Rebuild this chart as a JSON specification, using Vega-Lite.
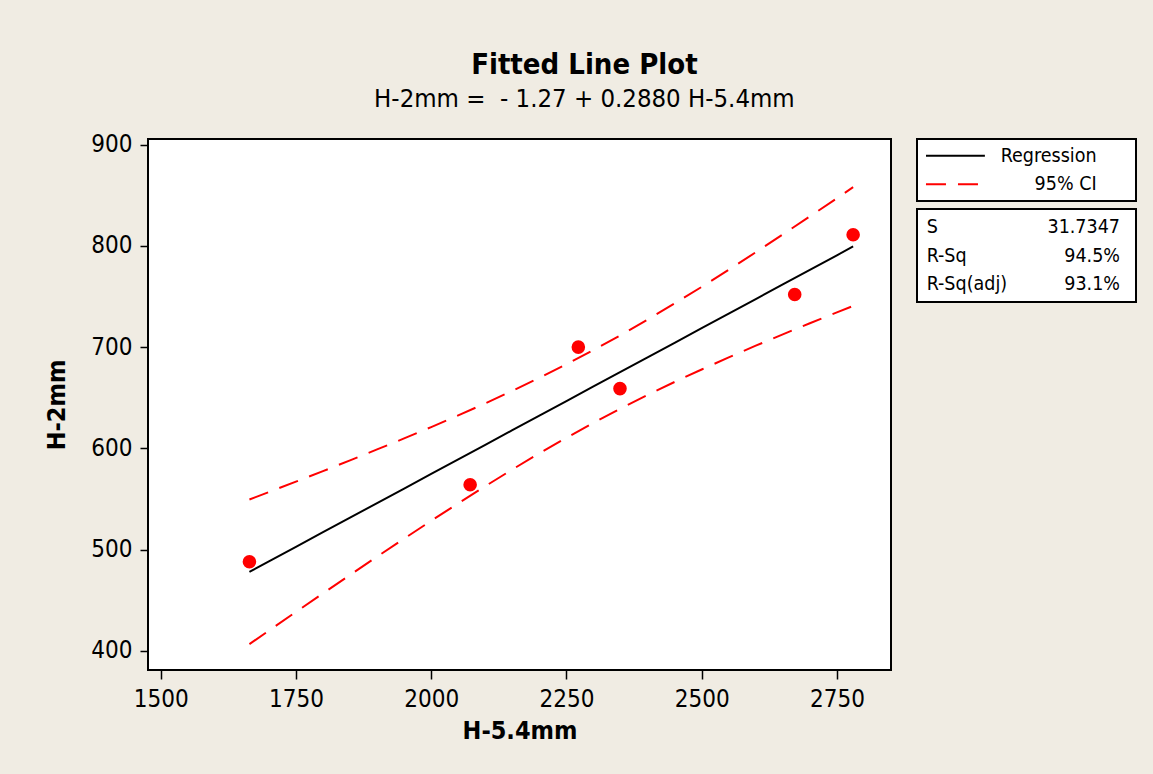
{
  "$schema": "https://vega.github.io/schema/vega-lite/v6.json",
  "background": "#F0ECE3",
  "padding": {"left": 43, "top": 51, "right": 17, "bottom": 30},
  "title": {
    "text": "Fitted Line Plot",
    "subtitle": "H-2mm = \u00a0- 1.27 + 0.2880 H-5.4mm",
    "anchor": "middle",
    "frame": "bounds",
    "font": "DejaVu Sans Condensed",
    "fontSize": 29,
    "fontWeight": "bold",
    "color": "black",
    "subtitleFont": "DejaVu Sans Condensed",
    "subtitleFontSize": 25.5,
    "subtitleColor": "black",
    "subtitlePadding": 7,
    "offset": 19,
    "dx": -6
  },
  "datasets": {
    "points": [
      {"x": 1664, "y": 488},
      {"x": 2072, "y": 564},
      {"x": 2272, "y": 700},
      {"x": 2349, "y": 659},
      {"x": 2672, "y": 752},
      {"x": 2780, "y": 811}
    ],
    "band": [
      {"x": 1664, "lower": 406.6, "fit": 478.0, "upper": 549.4},
      {"x": 1700, "lower": 419.9, "fit": 488.3, "upper": 556.8},
      {"x": 1750, "lower": 438.4, "fit": 502.7, "upper": 567.1},
      {"x": 1800, "lower": 456.7, "fit": 517.1, "upper": 577.5},
      {"x": 1850, "lower": 474.9, "fit": 531.5, "upper": 588.1},
      {"x": 1900, "lower": 493.0, "fit": 545.9, "upper": 598.9},
      {"x": 1950, "lower": 510.8, "fit": 560.3, "upper": 609.8},
      {"x": 2000, "lower": 528.4, "fit": 574.7, "upper": 621.0},
      {"x": 2050, "lower": 545.7, "fit": 589.1, "upper": 632.6},
      {"x": 2100, "lower": 562.6, "fit": 603.5, "upper": 644.4},
      {"x": 2150, "lower": 579.1, "fit": 617.9, "upper": 656.8},
      {"x": 2200, "lower": 595.1, "fit": 632.3, "upper": 669.6},
      {"x": 2250, "lower": 610.4, "fit": 646.7, "upper": 683.0},
      {"x": 2300, "lower": 625.2, "fit": 661.1, "upper": 697.1},
      {"x": 2350, "lower": 639.3, "fit": 675.5, "upper": 711.8},
      {"x": 2400, "lower": 652.7, "fit": 689.9, "upper": 727.2},
      {"x": 2450, "lower": 665.6, "fit": 704.3, "upper": 743.1},
      {"x": 2500, "lower": 677.9, "fit": 718.7, "upper": 759.5},
      {"x": 2550, "lower": 689.8, "fit": 733.1, "upper": 776.4},
      {"x": 2600, "lower": 701.4, "fit": 747.5, "upper": 793.7},
      {"x": 2650, "lower": 712.6, "fit": 761.9, "upper": 811.3},
      {"x": 2700, "lower": 723.6, "fit": 776.3, "upper": 829.1},
      {"x": 2750, "lower": 734.3, "fit": 790.7, "upper": 847.1},
      {"x": 2780, "lower": 740.7, "fit": 799.4, "upper": 858.0}
    ],
    "legend": [
      {"item": "Regression"},
      {"item": "95% CI"}
    ],
    "stats": [
      {"stat": "S", "value": "31.7347"},
      {"stat": "R-Sq", "value": "94.5%"},
      {"stat": "R-Sq(adj)", "value": "93.1%"}
    ]
  },
  "spacing": 26,
  "bounds": "flush",
  "hconcat": [
    {
      "width": 743,
      "height": 531,
      "layer": [
        {
          "data": {"name": "band"},
          "mark": {"type": "line", "color": "red", "strokeWidth": 2, "strokeDash": [20, 12]},
          "encoding": {
            "x": {"field": "x", "type": "quantitative", "title": "H-5.4mm",
                  "scale": {"domain": [1476.5, 2850], "nice": false, "zero": false},
                  "axis": {"values": [1500, 1750, 2000, 2250, 2500, 2750], "format": "d", "titlePadding": 7, "tickSize": 9}},
            "y": {"field": "upper", "type": "quantitative", "title": "H-2mm",
                  "scale": {"domain": [381, 905.6], "nice": false, "zero": false},
                  "axis": {"values": [400, 500, 600, 700, 800, 900], "format": "d", "titlePadding": 21}}
          }
        },
        {
          "data": {"name": "band"},
          "mark": {"type": "line", "color": "red", "strokeWidth": 2, "strokeDash": [20, 12]},
          "encoding": {
            "x": {"field": "x", "type": "quantitative", "title": "H-5.4mm"},
            "y": {"field": "lower", "type": "quantitative", "title": "H-2mm"}
          }
        },
        {
          "data": {"name": "band"},
          "mark": {"type": "line", "color": "black", "strokeWidth": 2},
          "encoding": {
            "x": {"field": "x", "type": "quantitative", "title": "H-5.4mm"},
            "y": {"field": "fit", "type": "quantitative", "title": "H-2mm"}
          }
        },
        {
          "data": {"name": "points"},
          "mark": {"type": "point", "filled": true, "color": "red", "opacity": 1, "size": 185},
          "encoding": {
            "x": {"field": "x", "type": "quantitative", "title": "H-5.4mm"},
            "y": {"field": "y", "type": "quantitative", "title": "H-2mm"}
          }
        }
      ]
    },
    {
      "spacing": 8,
      "bounds": "flush",
      "vconcat": [
        {
          "width": 219,
          "height": 62,
          "data": {"name": "legend"},
          "encoding": {
            "y": {"field": "item", "type": "nominal", "sort": null,
                  "scale": {"type": "point", "padding": 0.59}, "axis": null}
          },
          "layer": [
            {
              "mark": {"type": "rule", "strokeWidth": 2},
              "encoding": {
                "x": {"datum": 0.041, "type": "quantitative", "scale": {"domain": [0, 1], "nice": false}, "axis": null},
                "x2": {"datum": 0.31},
                "color": {"field": "item", "type": "nominal",
                          "scale": {"domain": ["Regression", "95% CI"], "range": ["black", "red"]}, "legend": null},
                "strokeDash": {"field": "item", "type": "nominal",
                               "scale": {"domain": ["Regression", "95% CI"], "range": [[1, 0], [20, 12]]}, "legend": null}
              }
            },
            {
              "mark": {"type": "text", "align": "right", "baseline": "middle", "fontSize": 19.5, "font": "DejaVu Sans Condensed", "color": "black"},
              "encoding": {
                "x": {"datum": 0.82, "type": "quantitative"},
                "text": {"field": "item"}
              }
            }
          ]
        },
        {
          "width": 219,
          "height": 93,
          "data": {"name": "stats"},
          "encoding": {
            "y": {"field": "stat", "type": "nominal", "sort": null,
                  "scale": {"type": "point", "padding": 0.63}, "axis": null}
          },
          "layer": [
            {
              "mark": {"type": "text", "align": "left", "baseline": "middle", "fontSize": 19.5, "font": "DejaVu Sans Condensed", "color": "black"},
              "encoding": {
                "x": {"datum": 0.044, "type": "quantitative", "scale": {"domain": [0, 1], "nice": false}, "axis": null},
                "text": {"field": "stat"}
              }
            },
            {
              "mark": {"type": "text", "align": "right", "baseline": "middle", "fontSize": 19.5, "font": "DejaVu Sans Condensed", "color": "black"},
              "encoding": {
                "x": {"datum": 0.927, "type": "quantitative"},
                "text": {"field": "value"}
              }
            }
          ]
        }
      ]
    }
  ],
  "config": {
    "view": {"stroke": "black", "strokeWidth": 2, "fill": "white"},
    "axis": {
      "domain": false,
      "grid": false,
      "labelFont": "DejaVu Sans Condensed",
      "labelFontSize": 24,
      "labelColor": "black",
      "labelPadding": 8,
      "titleFont": "DejaVu Sans Condensed",
      "titleFontSize": 25,
      "titleFontWeight": "bold",
      "titleColor": "black",
      "tickColor": "black",
      "tickSize": 8,
      "tickWidth": 1.5
    }
  }
}
